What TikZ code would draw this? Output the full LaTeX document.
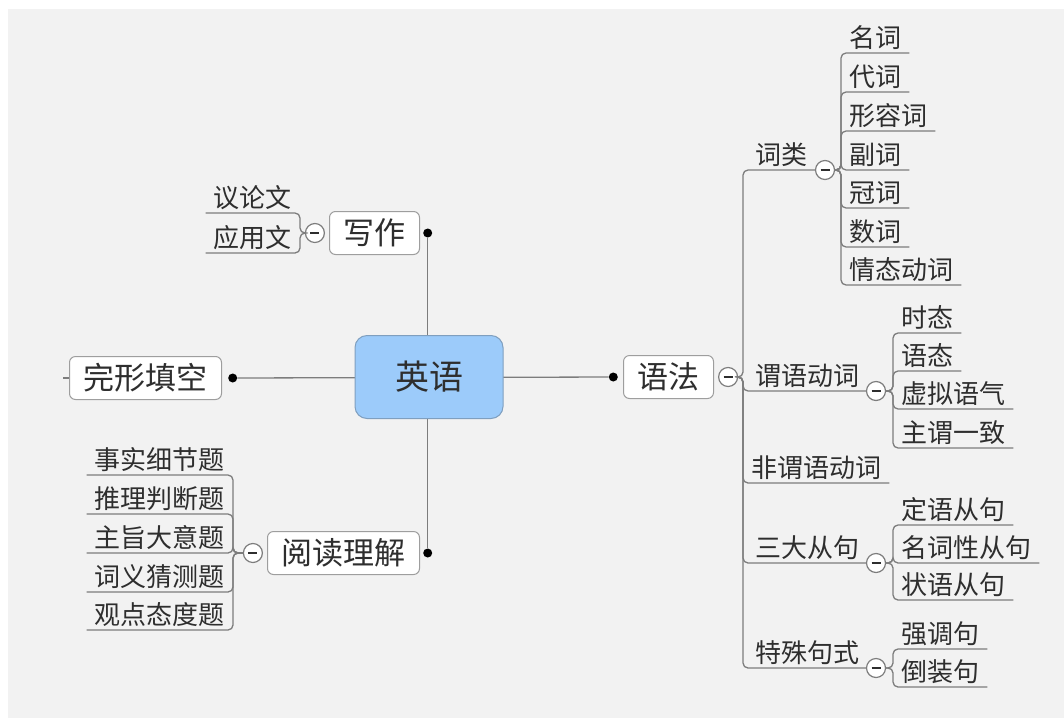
\documentclass[tikz,border=0pt]{standalone}
\usepackage{fontspec}
\setmainfont{Noto Sans CJK SC}
\usepackage{tikz}
\usetikzlibrary{positioning}
\definecolor{bgray}{HTML}{F2F2F2}
\definecolor{lgray}{HTML}{7D7D7D}
\definecolor{boxline}{HTML}{9E9E9E}
\definecolor{txt}{HTML}{2E2E2E}
\definecolor{rootblue}{HTML}{9CCBFA}
\definecolor{rootline}{HTML}{7F9FBF}
\tikzstyle{link} = [draw=lgray, line width=1.3pt, rounded corners=5pt]
\tikzstyle{root} = [draw=rootline, fill=rootblue, rounded corners=12pt, line width=1pt, minimum width=148pt, minimum height=83pt, text=txt, font=\fontsize{34}{40}\selectfont]
\tikzstyle{topic} = [draw=boxline, fill=white, rounded corners=6pt, line width=1pt, minimum height=43pt, inner xsep=14pt, text=txt, font=\fontsize{31}{36}\selectfont]
\tikzstyle{leaf} = [inner xsep=8pt, inner ysep=3pt, text=txt, font=\fontsize{26}{30}\selectfont]
\tikzstyle{dot} = [circle, fill=black, inner sep=0pt, minimum size=9pt]
\tikzstyle{fold} = [circle, draw=lgray, fill=white, line width=1.2pt, inner sep=0pt, minimum size=19pt, path picture={\draw[txt, line width=2pt] ([xshift=-4.5pt]path picture bounding box.center) -- ([xshift=4.5pt]path picture bounding box.center);}]

\begin{document}
\begin{tikzpicture}[x=1pt, y=-1pt]
	\useasboundingbox (0,0) rectangle (1064,718);
	\fill[bgray] (8,9) rectangle (1064,718);

	% main branches
	\node[topic, anchor=east] (xz) at (420,233) {写作};
	\node[topic, anchor=east] (wx) at (222,378) {完形填空};
	\node[topic, anchor=east] (yd) at (420,553) {阅读理解};
	\node[topic, anchor=west] (yf) at (623,377) {语法};
	\node[dot, right=3pt of xz] (xzd) {};
	\node[dot, right=6pt of wx] (wxd) {};
	\node[dot, right=3pt of yd] (ydd) {};
	\node[dot, left=5pt of yf] (yfd) {};
	\draw[link] (xzd) -- (ydd);
	\draw[link] (wxd) -- (yfd);
	\draw[link] (wx.west) -- ++(-6,0);
	\node[root] (yy) at (429,377) {英语};

	% 写作
	\node[fold, left=4pt of xz] (xzc) {};
	\coordinate (xzt) at (300,233);
	\node[leaf, anchor=south east] (xz1) at (300,213) {议论文};
	\node[leaf, anchor=south east] (xz2) at (300,253) {应用文};
	\draw[link] (xzc.west) -- (xzt) |- (xz1.south west);
	\draw[link] (xzc.west) -- (xzt) |- (xz2.south west);

	% 阅读理解
	\node[fold, left=4pt of yd] (ydc) {};
	\coordinate (ydt) at (233,553);
	\foreach \t/\y [count=\i] in {事实细节题/475, 推理判断题/514, 主旨大意题/553, 词义猜测题/592, 观点态度题/630} {
		\node[leaf, anchor=south east] (yd\i) at (233,\y) {\t};
		\draw[link] (ydc.west) -- (ydt) |- (yd\i.south west);
	}

	% 语法
	\node[fold, right=4pt of yf] (yfc) {};
	\coordinate (yft) at (743,377);
	\node[leaf, anchor=south west] (cl) at (747,170) {词类};
	\node[leaf, anchor=south west] (wy) at (747,391) {谓语动词};
	\node[leaf, anchor=south west] (fw) at (743,483) {非谓语动词};
	\node[leaf, anchor=south west] (sd) at (747,563) {三大从句};
	\node[leaf, anchor=south west] (ts) at (747,668) {特殊句式};
	\node[fold] (clc) at (825,170) {};
	\node[fold] (wyc) at (876,391) {};
	\node[fold] (sdc) at (876,563) {};
	\node[fold] (tsc) at (876,668) {};
	\draw[link] (yfc.east) -- (yft) |- (clc.west);
	\draw[link] (yfc.east) -- (yft) |- (wyc.west);
	\draw[link] (yfc.east) -- (yft) |- (fw.south east);
	\draw[link] (yfc.east) -- (yft) |- (sdc.west);
	\draw[link] (yfc.east) -- (yft) |- (tsc.west);

	\coordinate (clt) at (841,170);
	\foreach \t/\y [count=\i] in {名词/53, 代词/92, 形容词/131, 副词/170, 冠词/208, 数词/247, 情态动词/285} {
		\node[leaf, anchor=south west] (cl\i) at (841,\y) {\t};
		\draw[link] (clc.east) -- (clt) |- (cl\i.south east);
	}
	\coordinate (wyt) at (893,391);
	\foreach \t/\y [count=\i] in {时态/333, 语态/371, 虚拟语气/409, 主谓一致/448} {
		\node[leaf, anchor=south west] (wy\i) at (893,\y) {\t};
		\draw[link] (wyc.east) -- (wyt) |- (wy\i.south east);
	}
	\coordinate (sdt) at (893,563);
	\foreach \t/\y [count=\i] in {定语从句/525, 名词性从句/563, 状语从句/600} {
		\node[leaf, anchor=south west] (sd\i) at (893,\y) {\t};
		\draw[link] (sdc.east) -- (sdt) |- (sd\i.south east);
	}
	\coordinate (tst) at (893,668);
	\foreach \t/\y [count=\i] in {强调句/649, 倒装句/687} {
		\node[leaf, anchor=south west] (ts\i) at (893,\y) {\t};
		\draw[link] (tsc.east) -- (tst) |- (ts\i.south east);
	}
\end{tikzpicture}
\end{document}
